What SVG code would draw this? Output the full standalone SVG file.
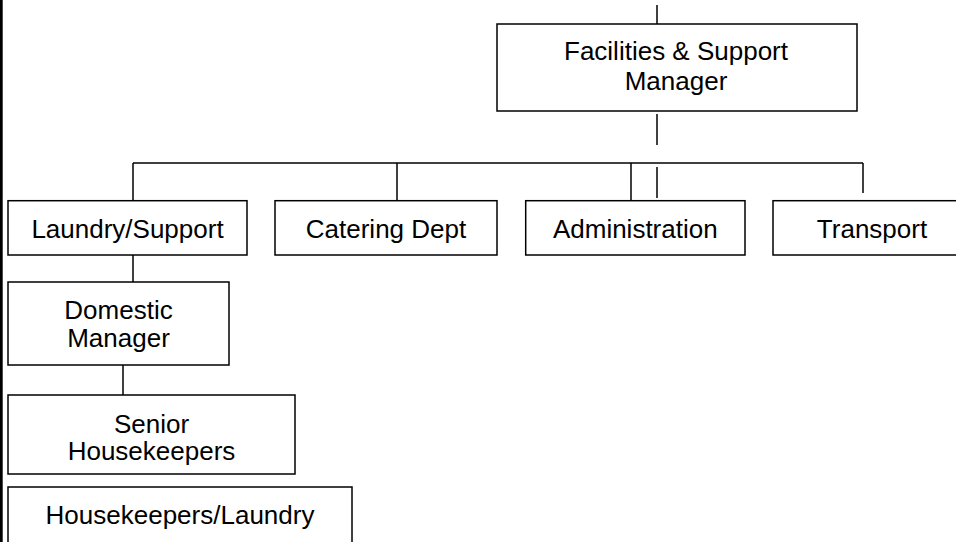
<svg xmlns="http://www.w3.org/2000/svg" width="956" height="542" viewBox="0 0 956 542">
  <style>
    .box { fill: #ffffff; stroke: #000000; stroke-width: 1.5; }
    .lbl { font-family: "Liberation Sans", Arial, sans-serif; font-size: 26px; fill: #000000; text-anchor: middle; }
    .wire { stroke: #000000; stroke-width: 1.5; fill: none; }
  </style>
  <rect x="0" y="0" width="956" height="542" fill="#ffffff"/>
  <!-- left margin rule -->
  <rect x="0" y="0" width="2.7" height="542" fill="#000000"/>

  <g id="connectors">
    <line class="wire" x1="657" y1="5" x2="657" y2="24"/>
    <line class="wire" x1="657" y1="114" x2="657" y2="145"/>
    <line class="wire" x1="133" y1="163" x2="863" y2="163"/>
    <line class="wire" x1="133" y1="163" x2="133" y2="200.7"/>
    <line class="wire" x1="397" y1="163" x2="397" y2="200.7"/>
    <line class="wire" x1="631" y1="163" x2="631" y2="200.7"/>
    <line class="wire" x1="657" y1="167" x2="657" y2="198"/>
    <line class="wire" x1="863" y1="163" x2="863" y2="193"/>
    <line class="wire" x1="133" y1="255" x2="133" y2="282"/>
    <line class="wire" x1="123" y1="364" x2="123" y2="395"/>
  </g>

  <g id="facilities-manager">
    <rect class="box" x="497" y="24" width="360" height="87"/>
    <text class="lbl" x="676" y="60">Facilities &amp; Support</text>
    <text class="lbl" x="676" y="90">Manager</text>
  </g>

  <g id="laundry-support">
    <rect class="box" x="8" y="200.7" width="239" height="54.3"/>
    <text class="lbl" x="127.5" y="237.5">Laundry/Support</text>
  </g>

  <g id="catering">
    <rect class="box" x="275" y="200.7" width="222" height="54.3"/>
    <text class="lbl" x="386" y="237.5">Catering Dept</text>
  </g>

  <g id="administration">
    <rect class="box" x="525.7" y="200.7" width="219.3" height="54.3"/>
    <text class="lbl" x="635.3" y="237.5">Administration</text>
  </g>

  <g id="transport">
    <rect class="box" x="773" y="200.7" width="200" height="54.3"/>
    <text class="lbl" x="872" y="237.5">Transport</text>
  </g>

  <g id="domestic-manager">
    <rect class="box" x="8" y="282" width="221" height="83"/>
    <text class="lbl" x="118.5" y="319">Domestic</text>
    <text class="lbl" x="118.5" y="347">Manager</text>
  </g>

  <g id="senior-housekeepers">
    <rect class="box" x="8" y="395" width="287" height="79"/>
    <text class="lbl" x="151.5" y="433">Senior</text>
    <text class="lbl" x="151.5" y="460">Housekeepers</text>
  </g>

  <g id="housekeepers-laundry">
    <rect class="box" x="8" y="487" width="344" height="70"/>
    <text class="lbl" x="180" y="524">Housekeepers/Laundry</text>
  </g>
</svg>
